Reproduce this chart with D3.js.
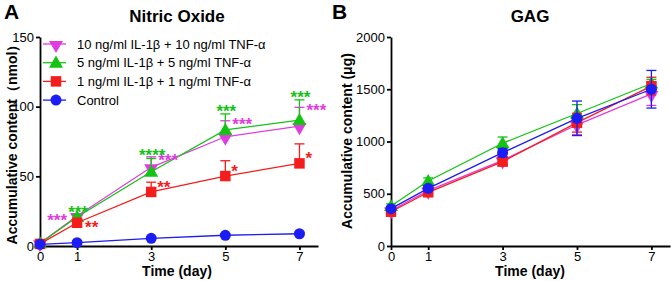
<!DOCTYPE html>
<html>
<head>
<meta charset="utf-8">
<script src="https://cdn.jsdelivr.net/npm/d3@7"></script>
<style>
  body { margin: 0; background: #fff; }
  svg { font-family: Arial, "Liberation Sans", sans-serif; }
</style>
</head>
<body>
<svg id="chart"></svg>
<script>
const width = 671;
const height = 281;

const days = [0, 1, 3, 5, 7];
const seriesNames = [
  "10 ng/ml IL-1β + 10 ng/ml TNF-α",
  "5 ng/ml IL-1β + 5 ng/ml TNF-α",
  "1 ng/ml IL-1β + 1 ng/ml TNF-α",
  "Control"
];
const colors = ["#e03ce0", "#14c314", "#f51c1c", "#1c1cf5"];
const symbols = ["triDown", "triUp", "square", "circle"];

// Nitric oxide (nmol)
const noHigh = [2, 21.5, 56.5, 78.4, 86];
const noMid = [2, 20.8, 53.3, 83.3, 90.4];
const noLow = [1.5, 16.7, 38.8, 50.2, 59.3];
const noCtrl = [1.2, 2.4, 5.5, 7.7, 8.8];
const noHighSd = [0.5, 1.5, 7.5, 11.5, 13.5];
const noMidSd = [0.5, 1.5, 9.5, 11.5, 14.5];
const noLowSd = [0.5, 1.5, 7, 11, 14];
const noCtrlSd = [0.3, 0.4, 0.6, 0.8, 0.8];
const noHighStars = ["", "***", "***", "***", "***"];
const noMidStars = ["", "***", "****", "***", "***"];
const noLowStars = ["", "**", "**", "*", "*"];

// GAG (µg)
const gagHigh = [340, 530, 820, 1160, 1455];
const gagMid = [383, 622, 983, 1268, 1555];
const gagLow = [328, 514, 807, 1180, 1530];
const gagCtrl = [357, 552, 893, 1222, 1500];
const gagHighSd = [20, 25, 30, 95, 110];
const gagMidSd = [20, 30, 60, 85, 40];
const gagLowSd = [20, 25, 30, 90, 85];
const gagCtrlSd = [20, 25, 40, 165, 180];

const svg = d3.select("#chart")
  .attr("width", width)
  .attr("height", height);

const sym = {
  circle: d3.symbol(d3.symbolCircle, 95),
  square: d3.symbol(d3.symbolSquare, 110),
  triUp: d3.symbol(d3.symbolTriangle, 85),
  triDown: d3.symbol(d3.symbolTriangle, 85)
};

function marker(g, type, x, y, color) {
  g.append("path")
    .attr("d", sym[type]())
    .attr("transform", `translate(${x},${y})` + (type === "triDown" ? " rotate(180)" : "") +
      (type.startsWith("tri") ? ` translate(0,${type === "triDown" ? -1 : 1})` : ""))
    .attr("fill", color);
}

function panel(opts) {
  const g = svg.append("g");
  const x = d3.scaleLinear().domain([0, 7.5]).range(opts.xr);
  const y = d3.scaleLinear().domain([0, opts.ymax]).range([246, 37]);

  const yAxis = g.append("g")
    .attr("transform", `translate(${opts.xr[0]},0)`)
    .call(d3.axisLeft(y).tickValues(opts.yticks).tickFormat(d3.format("d"))
      .tickSize(4).tickSizeOuter(0).tickPadding(2));
  const xAxis = g.append("g")
    .attr("transform", `translate(0,246)`)
    .call(d3.axisBottom(x).tickValues(days).tickSize(4).tickSizeOuter(0).tickPadding(2));
  [yAxis, xAxis].forEach(a => {
    a.selectAll("path, line").attr("stroke", "#000").attr("stroke-width", 1.8);
    a.selectAll("text").attr("font-size", 13).attr("fill", "#000");
    a.attr("font-family", null);
  });

  // titles
  g.append("text")
    .attr("x", opts.titleX).attr("y", 22)
    .attr("text-anchor", "middle")
    .attr("font-weight", "bold").attr("font-size", 17)
    .text(opts.title);
  g.append("text")
    .attr("x", opts.letterX).attr("y", 19)
    .attr("font-weight", "bold").attr("font-size", 21)
    .text(opts.letter);
  g.append("text")
    .attr("x", opts.titleX).attr("y", 276)
    .attr("text-anchor", "middle")
    .attr("font-weight", "bold").attr("font-size", 14)
    .text("Time (day)");
  g.append("text")
    .attr("transform", `translate(${opts.ylabX},141) rotate(-90)`)
    .attr("text-anchor", "middle")
    .attr("font-weight", "bold").attr("font-size", 14)
    .text(opts.ylabel);

  const line = d3.line().x((d, i) => x(days[i])).y(d => y(d));

  opts.series.forEach((s, k) => {
    const c = colors[k];
    // error bars
    s.values.forEach((v, i) => {
      const cx = x(days[i]);
      const top = y(v + s.sd[i]);
      const bot = opts.bothSides ? y(v - s.sd[i]) : y(v);
      g.append("line").attr("x1", cx).attr("x2", cx).attr("y1", top).attr("y2", bot)
        .attr("stroke", c).attr("stroke-width", 1.3);
      g.append("line").attr("x1", cx - 5).attr("x2", cx + 5).attr("y1", top).attr("y2", top)
        .attr("stroke", c).attr("stroke-width", 1.3);
      if (opts.bothSides) {
        g.append("line").attr("x1", cx - 5).attr("x2", cx + 5).attr("y1", bot).attr("y2", bot)
          .attr("stroke", c).attr("stroke-width", 1.3);
      }
    });
    g.append("path")
      .attr("d", line(s.values))
      .attr("fill", "none")
      .attr("stroke", c)
      .attr("stroke-width", 1.3);
    s.values.forEach((v, i) => marker(g, symbols[k], x(days[i]), y(v), c));
  });

  // significance stars
  if (opts.stars) {
    opts.stars.forEach(st => {
      const s = opts.series[st.k];
      st.labels.forEach((lab, i) => {
        if (!lab) return;
        const v = s.values[i];
        const top = y(v + s.sd[i]);
        const pos = st.place(i, x(days[i]), top, y(v));
        g.append("text")
          .attr("x", pos[0]).attr("y", pos[1])
          .attr("text-anchor", pos[2])
          .attr("font-weight", "bold")
          .attr("font-size", 17)
          .attr("fill", colors[st.k])
          .text(lab);
      });
    });
  }
  return { g, x, y };
}

const A = panel({
  xr: [40, 318], ymax: 150, yticks: [0, 50, 100, 150],
  title: "Nitric Oxide", titleX: 177, letter: "A", letterX: 4,
  ylabel: "Accumulative content（nmol）", ylabX: 17,
  series: [
    { values: noHigh, sd: noHighSd },
    { values: noMid, sd: noMidSd },
    { values: noLow, sd: noLowSd },
    { values: noCtrl, sd: noCtrlSd }
  ],
  stars: [
    { k: 0, labels: noHighStars,
      place: (i, cx, top, py) => i === 1 ? [cx - 10, top + 12, "end"] : [cx + 7, top + 9, "start"] },
    { k: 1, labels: noMidStars,
      place: (i, cx, top, py) => [cx + 1, top + 3, "middle"] },
    { k: 2, labels: noLowStars,
      place: (i, cx, top, py) => i === 1 ? [cx + 8, py + 10, "start"] : [cx + 6, py + 1, "start"] }
  ]
});

const B = panel({
  xr: [391, 670], ymax: 2000, yticks: [0, 500, 1000, 1500, 2000],
  title: "GAG", titleX: 530, letter: "B", letterX: 332,
  ylabel: "Accumulative content (μg)", ylabX: 352, bothSides: true,
  series: [
    { values: gagHigh, sd: gagHighSd },
    { values: gagMid, sd: gagMidSd },
    { values: gagLow, sd: gagLowSd },
    { values: gagCtrl, sd: gagCtrlSd }
  ]
});

// legend inside panel A
const legend = A.g.append("g");
seriesNames.forEach((name, k) => {
  const ly = 44 + k * 18.7;
  legend.append("line").attr("x1", 43).attr("x2", 66).attr("y1", ly).attr("y2", ly)
    .attr("stroke", colors[k]).attr("stroke-width", 1.3);
  marker(legend, symbols[k], 56, ly, colors[k]);
  legend.append("text")
    .attr("x", 77).attr("y", ly + 4.5)
    .attr("font-size", 13)
    .text(name);
});
</script>
</body>
</html>
